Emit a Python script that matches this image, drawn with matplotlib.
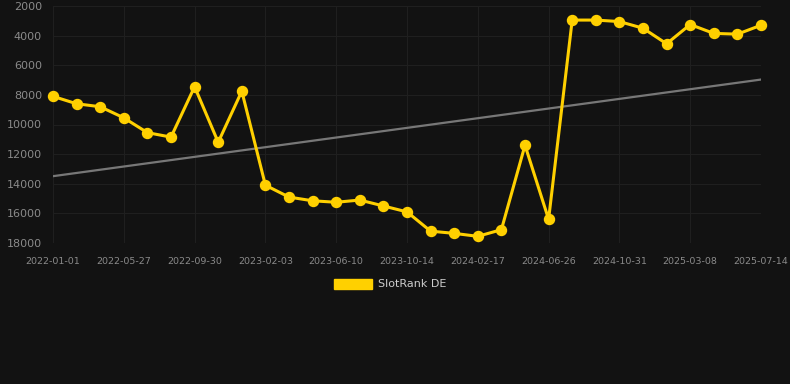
import matplotlib.pyplot as plt
import matplotlib.patches as mpatches
import numpy as np

tick_labels = ['2022-01-01', '2022-05-27', '2022-09-30', '2023-02-03', '2023-06-10',
               '2023-10-14', '2024-02-17', '2024-06-26', '2024-10-31', '2025-03-08',
               '2025-07-14']
rank = [8100, 8600, 8800, 9550, 10550, 10850, 7450, 11200, 7750, 14100,
        14900, 15150, 15250, 15100, 15500, 15900, 17200, 17350, 17550, 17100,
        11400, 16400, 2950, 2950, 3050, 3500, 4550, 3250, 3850, 3900, 3300]

bg = '#121212'
yellow = '#FFD000'

x = np.arange(len(rank))
slope, icpt = np.polyfit(x, rank, 1)
trend = slope * x + icpt

fig = plt.figure(figsize=(7.9, 3.84), dpi=100, facecolor=bg)
ax = fig.add_axes([53/790, 1 - 243/384, (761-53)/790, (243-6)/384], facecolor=bg)

ax.plot([x[0], x[-1]], [trend[0], trend[-1]], color='#777777', lw=1.6, zorder=2)
ax.plot(x, rank, color=yellow, lw=2.2, marker='o', markersize=7.2, zorder=3, clip_on=False)

ax.set_xlim(0, len(rank) - 1)
ax.set_ylim(18000, 2000)
ax.set_yticks(np.arange(2000, 18001, 2000))
ax.set_xticks(x[::3])
ax.set_xticklabels(tick_labels)
ax.grid(True, color='#1f1f1f', lw=0.8)
ax.set_axisbelow(True)
for s in ax.spines.values():
    s.set_visible(False)
ax.tick_params(axis='y', colors='#8a8a8a', labelsize=8, length=0, pad=8)
ax.tick_params(axis='x', colors='#8a8a8a', labelsize=6.8, length=0, pad=10)

handle = mpatches.Patch(color=yellow, label='SlotRank DE')
fig.legend(handles=[handle], loc='center', bbox_to_anchor=(390/790, 1 - 284/384),
           frameon=False, fontsize=8, labelcolor='#cccccc',
           handlelength=3.5, handleheight=1.0, handletextpad=0.5)

fig.savefig('out.png', dpi=100, facecolor=bg)
